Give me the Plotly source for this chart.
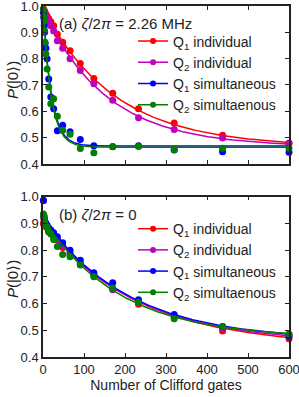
import numpy as np
import plotly.graph_objects as go

# Clifford sequence lengths
clifford_x = [1, 2, 3, 4, 5, 7, 10, 14, 19, 26, 35, 48, 66, 91, 124, 170, 233, 320, 438, 600]

series_names = ["Q<sub>1</sub> individual", "Q<sub>2</sub> individual",
                "Q<sub>1</sub> simultaneous", "Q<sub>2</sub> simultaenous"]
series_colors = ["#ff0000", "#bf00bf", "#0000ff", "#008000"]

# panel (a): zeta/2pi = 2.26 MHz
a_q1_ind = [0.99, 0.985, 0.982, 0.978, 0.975, 0.968, 0.962, 0.952, 0.94, 0.925,
            0.893, 0.862, 0.83, 0.782, 0.725, 0.669, 0.61, 0.556, 0.509, 0.478]
a_q2_ind = [0.982, 0.978, 0.975, 0.972, 0.968, 0.962, 0.952, 0.94, 0.925, 0.905,
            0.868, 0.84, 0.80, 0.755, 0.705, 0.642, 0.576, 0.531, 0.499, 0.48]
a_q1_sim = [0.975, 0.955, 0.925, 0.90, 0.858, 0.84, 0.80, 0.723, 0.654, 0.61,
            0.526, 0.547, 0.522, 0.493, 0.469, 0.465, 0.469, 0.453, 0.446, 0.445]
a_q2_sim = [0.985, 0.96, 0.943, 0.906, 0.862, 0.818, 0.761, 0.692, 0.629, 0.648,
            0.581, 0.528, 0.513, 0.459, 0.443, 0.466, 0.466, 0.455, 0.46, 0.46]

# panel (b): zeta/2pi = 0
b_q1_ind = [0.899, 0.903, 0.90, 0.895, 0.893, 0.888, 0.884, 0.87, 0.865, 0.85,
            0.84, 0.81, 0.785, 0.748, 0.705, 0.655, 0.597, 0.548, 0.497, 0.468]
b_q2_ind = [0.985, 0.92, 0.91, 0.905, 0.90, 0.893, 0.888, 0.878, 0.87, 0.855,
            0.838, 0.815, 0.787, 0.75, 0.708, 0.652, 0.603, 0.553, 0.507, 0.482]
b_q1_sim = [0.987, 0.93, 0.92, 0.912, 0.905, 0.90, 0.893, 0.883, 0.875, 0.865,
            0.85, 0.828, 0.80, 0.762, 0.715, 0.678, 0.614, 0.559, 0.514, 0.478]
b_q2_sim = [0.935, 0.93, 0.915, 0.905, 0.895, 0.89, 0.886, 0.868, 0.86, 0.84,
            0.814, 0.784, 0.775, 0.744, 0.70, 0.658, 0.605, 0.543, 0.514, 0.486]

# fitted decay parameters  P = A * p**m + B   (amplitude, p, offset)
a_fit_A = [0.525, 0.52, 0.53, 0.53]
a_fit_p = [0.9943, 0.99356, 0.952, 0.951]
a_fit_B = [0.465, 0.465, 0.468, 0.464]
b_fit_A = [0.465, 0.46, 0.46, 0.45]
b_fit_p = [0.9956, 0.99541, 0.99521, 0.99461]
b_fit_B = [0.44, 0.45, 0.46, 0.47]

y_ticks = [0.4, 0.5, 0.6, 0.7, 0.8, 0.9, 1.0]
x_ticks = [0, 100, 200, 300, 400, 500, 600]

FONT = "Liberation Sans"
INK = "#222222"
fig = go.Figure()

m_dense = np.linspace(0, 600, 401)

panels = [
    ("x", "y", "legend", [a_q1_ind, a_q2_ind, a_q1_sim, a_q2_sim], a_fit_A, a_fit_p, a_fit_B),
    ("x2", "y2", "legend2", [b_q1_ind, b_q2_ind, b_q1_sim, b_q2_sim], b_fit_A, b_fit_p, b_fit_B),
]

for xa, ya, leg, data, fA, fp, fB in panels:
    for i in range(4):
        col = series_colors[i]
        fig.add_trace(go.Scatter(x=clifford_x, y=data[i], mode="markers", xaxis=xa, yaxis=ya,
                                 marker=dict(color=col, size=7, line=dict(width=0)),
                                 showlegend=False, hoverinfo="skip", cliponaxis=False))
        fit = fA[i] * np.power(fp[i], m_dense) + fB[i]
        fig.add_trace(go.Scatter(x=m_dense, y=fit, mode="lines", xaxis=xa, yaxis=ya,
                                 line=dict(color=col, width=1.5), showlegend=False,
                                 hoverinfo="skip"))
    for i in range(4):
        fig.add_trace(go.Scatter(x=[None], y=[None], mode="lines+markers", xaxis=xa, yaxis=ya,
                                 name=series_names[i], legend=leg,
                                 line=dict(color=series_colors[i], width=1.5),
                                 marker=dict(color=series_colors[i], size=6)))

axis_common = dict(showgrid=False, zeroline=False, showline=True, linecolor=INK,
                   linewidth=1.5, mirror="ticks", ticks="inside", ticklen=4, tickwidth=1,
                   tickcolor=INK, ticklabeloverflow="allow", automargin=False,
                   tickfont=dict(family=FONT, size=13, color=INK))

leg_font = dict(family=FONT, size=14, color=INK)

fig.update_layout(
    width=299, height=397,
    margin=dict(l=43, r=10, t=6, b=40),
    paper_bgcolor="white", plot_bgcolor="white",
    xaxis=dict(domain=[0, 1], anchor="y", range=[0, 600], tickvals=x_ticks,
               showticklabels=False, **axis_common),
    yaxis=dict(domain=[0.5499, 1.0], anchor="x", range=[0.4, 1.0], tickvals=y_ticks,
               ticktext=[f"{v:.1f}" for v in y_ticks], **axis_common),
    xaxis2=dict(domain=[0, 1], anchor="y2", range=[0, 600], tickvals=x_ticks,
                title=dict(text="Number of Clifford gates", standoff=4,
                           font=dict(family=FONT, size=14, color=INK)),
                **axis_common),
    yaxis2=dict(domain=[0, 0.4567], anchor="x2", range=[0.4, 1.0], tickvals=y_ticks,
                ticktext=[f"{v:.1f}" for v in y_ticks], **axis_common),
    legend=dict(x=0.366, y=0.9444, xanchor="left", yanchor="top", bgcolor="rgba(0,0,0,0)",
                font=leg_font, tracegroupgap=0, itemclick=False),
    legend2=dict(x=0.366, y=0.410, xanchor="left", yanchor="top", bgcolor="rgba(0,0,0,0)",
                 font=leg_font, tracegroupgap=0, itemclick=False),
    showlegend=True,
)

ann_font = dict(family=FONT, size=15, color=INK)
fig.add_annotation(xref="x", yref="y", x=33, y=0.935, xanchor="left", yanchor="middle",
                   text="(a) <i>ζ</i>/2<i>π</i> = 2.26 MHz", showarrow=False, font=ann_font)
fig.add_annotation(xref="x2", yref="y2", x=33, y=0.935, xanchor="left", yanchor="middle",
                   text="(b) <i>ζ</i>/2<i>π</i> = 0", showarrow=False, font=ann_font)
for yc in [0.789, 0.222]:
    fig.add_annotation(xref="paper", yref="paper", x=-0.126, y=yc, xanchor="center",
                       yanchor="middle", textangle=-90, text="<i>P</i>(|0⟩)",
                       showarrow=False, font=dict(family=FONT, size=15, color=INK))

fig.write_html("out.html", config={"displayModeBar": False},
               post_script="document.body.style.margin='0';document.body.style.overflow='hidden';")
